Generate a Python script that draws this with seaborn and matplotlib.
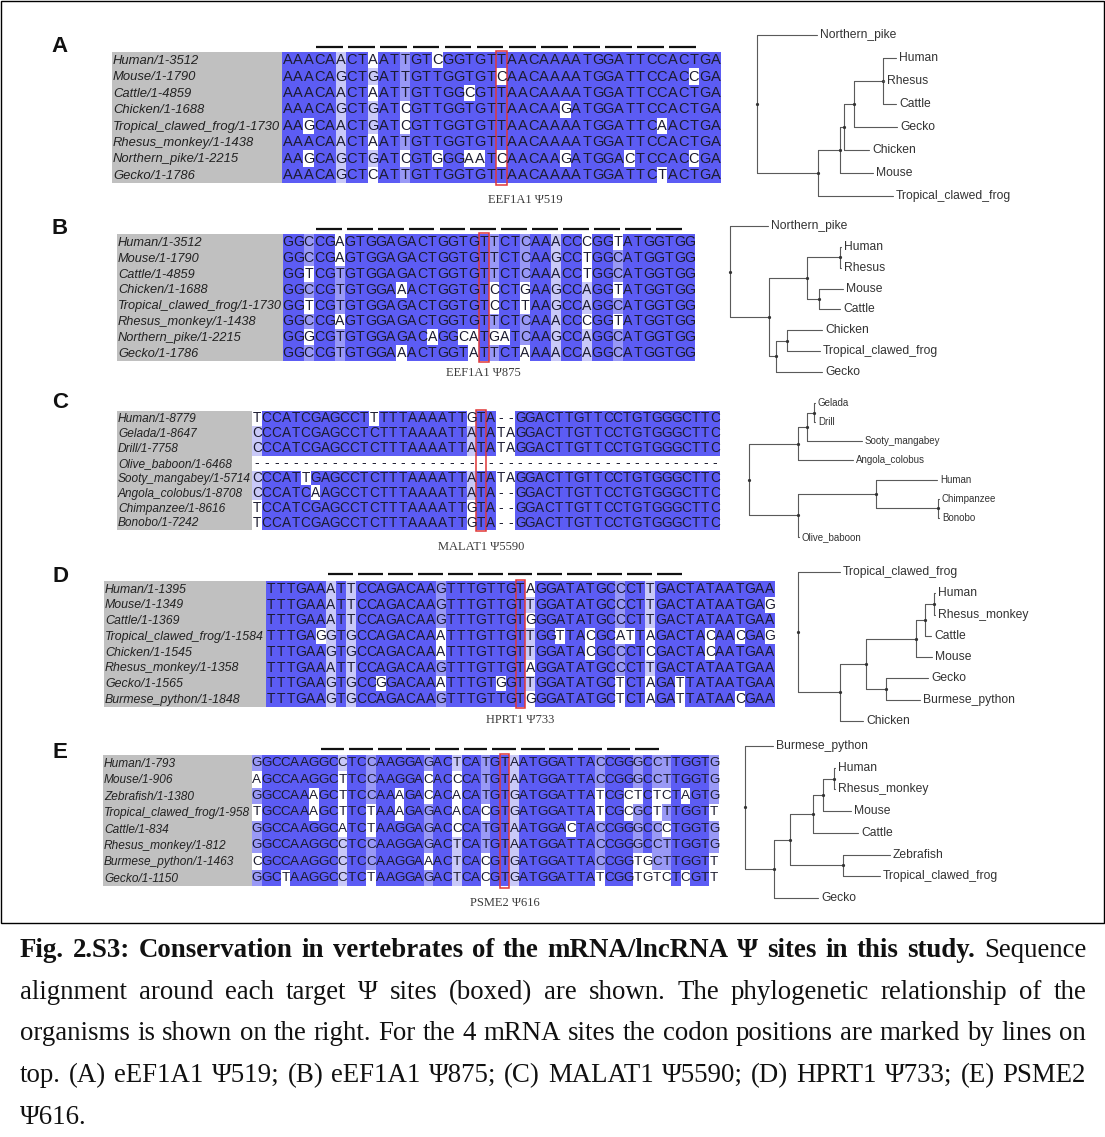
import numpy as np
import matplotlib
matplotlib.use("Agg")
import matplotlib.pyplot as plt
from matplotlib.colors import ListedColormap
from matplotlib.patches import Rectangle
import seaborn as sns
from collections import Counter

W, H = 1105, 1137

# ---------------- data ----------------
a_names = ["Human/1-3512", "Mouse/1-1790", "Cattle/1-4859", "Chicken/1-1688",
           "Tropical_clawed_frog/1-1730", "Rhesus_monkey/1-1438", "Northern_pike/1-2215", "Gecko/1-1786"]
a_seqs = ["AAACAACTAATTGTCGGTGTTAACAAAATGGATTCCACTGA",
          "AAACAGCTGATTGTTGGTGTCAACAAAATGGATTCCACCGA",
          "AAACAACTAATTGTTGGCGTTAACAAAATGGATTCCACTGA",
          "AAACAGCTGATCGTTGGTGTTAACAAGATGGATTCCACTGA",
          "AAGCAACTGATCGTTGGTGTTAACAAAATGGATTCAACTGA",
          "AAACAACTAATTGTTGGTGTTAACAAAATGGATTCCACTGA",
          "AAGCAGCTGATCGTGGGAATCAACAAGATGGACTCCACCGA",
          "AAACAGCTCATTGTTGGTGTTAACAAAATGGATTCTACTGA"]

b_names = ["Human/1-3512", "Mouse/1-1790", "Cattle/1-4859", "Chicken/1-1688",
           "Tropical_clawed_frog/1-1730", "Rhesus_monkey/1-1438", "Northern_pike/1-2215", "Gecko/1-1786"]
b_seqs = ["GGCCGAGTGGAGACTGGTGTTCTCAAACCCGGTATGGTGG",
          "GGCCGAGTGGAGACTGGTGTTCTCAAGCCTGGCATGGTGG",
          "GGTCGTGTGGAGACTGGTGTTCTCAAACCTGGCATGGTGG",
          "GGCCGTGTGGAAACTGGTGTCCTGAAGCCAGGTATGGTGG",
          "GGTCGTGTGGAGACTGGTGTCCTTAAGCCAGGCATGGTGG",
          "GGCCGAGTGGAGACTGGTGTTCTCAAACCCGGTATGGTGG",
          "GGGCGTGTGGAGACAGGCATGATCAAGCCAGGCATGGTGG",
          "GGCCGTGTGGAAACTGGTATTCTAAAACCAGGCATGGTGG"]

c_names = ["Human/1-8779", "Gelada/1-8647", "Drill/1-7758", "Olive_baboon/1-6468",
           "Sooty_mangabey/1-5714", "Angola_colobus/1-8708", "Chimpanzee/1-8616", "Bonobo/1-7242"]
c_seqs = ["TCCATCGAGCCTTTTTAAAATTGTA--GGACTTGTTCCTGTGGGCTTC",
          "CCCATCGAGCCTCTTTAAAATTATATAGGACTTGTTCCTGTGGGCTTC",
          "CCCATCGAGCCTCTTTAAAATTATATAGGACTTGTTCCTGTGGGCTTC",
          "------------------------------------------------",
          "CCCATTGAGCCTCTTTAAAATTATATAGGACTTGTTCCTGTGGGCTTC",
          "CCCATCAAGCCTCTTTAAAATTATA--GGACTTGTTCCTGTGGGCTTC",
          "TCCATCGAGCCTCTTTAAAATTGTA--GGACTTGTTCCTGTGGGCTTC",
          "TCCATCGAGCCTCTTTAAAATTGTA--GGACTTGTTCCTGTGGGCTTC"]

d_names = ["Human/1-1395", "Mouse/1-1349", "Cattle/1-1369", "Tropical_clawed_frog/1-1584",
           "Chicken/1-1545", "Rhesus_monkey/1-1358", "Gecko/1-1565", "Burmese_python/1-1848"]
d_seqs = ["TTTGAAATTCCAGACAAGTTTGTTGTAGGATATGCCCTTGACTATAATGAA",
          "TTTGAAATTCCAGACAAGTTTGTTGTTGGATATGCCCTTGACTATAATGAG",
          "TTTGAAATTCCAGACAAGTTTGTTGTGGGATATGCCCTTGACTATAATGAA",
          "TTTGAGGTGCCAGACAAATTTGTTGTTGGTTACGCATTAGACTACAACGAG",
          "TTTGAAGTGCCAGACAAATTTGTTGTTGGATACGCCCTCGACTACAATGAA",
          "TTTGAAATTCCAGACAAGTTTGTTGTAGGATATGCCCTTGACTATAATGAA",
          "TTTGAAGTGCCGGACAAATTTGTGGTTGGATATGCTCTAGATTATAATGAA",
          "TTTGAAGTGCCAGACAAGTTTGTTGTGGGATATGCTCTAGATTATAACGAA"]

e_names = ["Human/1-793", "Mouse/1-906", "Zebrafish/1-1380", "Tropical_clawed_frog/1-958",
           "Cattle/1-834", "Rhesus_monkey/1-812", "Burmese_python/1-1463", "Gecko/1-1150"]
e_seqs = ["GGCCAAGGCCTCCAAGGAGACTCATGTAATGGATTACCGGGCCTTGGTG",
          "AGCCAAGGCTTCCAAGGACACCCATGTAATGGATTACCGGGCCTTGGTG",
          "GGCCAAAGCTTCCAAAGACACACATGTGATGGATTATCGCTCTCTAGTG",
          "TGCCAAAGCTTCTAAAGAGACACACGTGATGGATTATCGCGCTTTGGTT",
          "GGCCAAGGCATCTAAGGAGACCCATGTAATGGACTACCGGGCCCTGGTG",
          "GGCCAAGGCCTCCAAGGAGACTCATGTAATGGATTACCGGGCCTTGGTG",
          "CGCCAAGGCCTCCAAGGAAACTCACGTGATGGATTACCGGTGCTTGGTT",
          "GGCTAAGGCCTCTAAGGAGACTCACGTGATGGATTATCGGTGTCTCGTT"]

# boxed psi column, first codon column, number of codons, gene label
site_cols = [20, 19, 23, 25, 26]
codon_starts = [3, 3, None, 6, 7]
codon_counts = [12, 12, 0, 12, 12]
site_labels = ["EEF1A1 \u03a8519", "EEF1A1 \u03a8875", "MALAT1 \u03a85590", "HPRT1 \u03a8733", "PSME2 \u03a8616"]
panel_letters = ["A", "B", "C", "D", "E"]

# trees (branch lengths)
tree_a = "(Northern_pike:60,(((((Human:13,Rhesus:1,Cattle:13):29,Gecko:43):10,Chicken:25):4,Mouse:33):22,Tropical_clawed_frog:75):61);"
tree_b = "(Northern_pike:38,(((Human:1,Rhesus:1):33,(Mouse:24,Cattle:21):12):38,((Chicken:35,Tropical_clawed_frog:33):11,Gecko:46):7):39);"
tree_c = "((((Gelada:1,Drill:1):7,Sooty_mangabey:55):9,Angola_colobus:55):49,((Human:61,(Chimpanzee:1,Bonobo:1):62):78,Olive_baboon:1):49);"
tree_d = "(Tropical_clawed_frog:42,(((((Human:1,Rhesus_monkey:1):9,Cattle:6):9,Mouse:16):50,(Gecko:42,Burmese_python:34):20):26,Chicken:23):42);"
tree_e = "(Burmese_python:28,(((((Human:1,Rhesus_monkey:1):11,Mouse:28):10,Cattle:45):23,(Zebrafish:47,Tropical_clawed_frog:37):53):16,Gecko:44):29);"

caption_lines = [
    "Fig. 2.S3: Conservation in vertebrates of the mRNA/lncRNA \u03a8 sites in this study. Sequence",
    "alignment around each target \u03a8 sites (boxed) are shown. The phylogenetic relationship of the",
    "organisms is shown on the right. For the 4 mRNA sites the codon positions are marked by lines on",
    "top. (A) eEF1A1 \u03a8519; (B) eEF1A1 \u03a8875; (C) MALAT1 \u03a85590; (D) HPRT1 \u03a8733; (E) PSME2",
    "\u03a8616.",
]
n_bold_words = 13

# ---------------- layout (pixels) ----------------
layout = [
    dict(nx=112, sx=282, cw=10.7, top=52, rh=16.4, ly=47, label_y=200, label_dx=24, let_y=47, fs=10.5),
    dict(nx=117, sx=283, cw=10.3, top=234, rh=15.9, ly=229, label_y=373, label_dx=0, let_y=228, fs=10.2),
    dict(nx=117, sx=252, cw=9.75, top=411, rh=14.9, ly=None, label_y=547, label_dx=0, let_y=403, fs=9.8),
    dict(nx=104, sx=266, cw=9.98, top=581, rh=15.75, ly=574, label_y=720, label_dx=0, let_y=577, fs=10),
    dict(nx=103, sx=252, cw=9.53, top=755, rh=16.4, ly=749, label_y=903, label_dx=0, let_y=752, fs=9.7),
]
tree_layout = [
    dict(x0=757, y0=35, y1=196, fs=8.7),
    dict(x0=730, y0=226, y1=372, fs=8.7),
    dict(x0=749, y0=403, y1=537, fs=7),
    dict(x0=798, y0=572, y1=721, fs=8.7),
    dict(x0=745, y0=746, y1=898, fs=8.7),
]

sns.set_theme(style="white")
plt.rcParams["font.family"] = ["Liberation Sans", "DejaVu Sans"]

DARK, MID, LIGHT = "#5c5cf4", "#9999f6", "#c9c9f8"
cmap = ListedColormap(["#ffffff", LIGHT, MID, DARK])


def identity_levels(seqs):
    arr = np.array([list(s) for s in seqs])
    n = arr.shape[0]
    lev = np.zeros(arr.shape, dtype=int)
    for j in range(arr.shape[1]):
        col = [c for c in arr[:, j] if c != "-"]
        if not col:
            continue
        counts = Counter(col)
        top = max(counts.values())
        pct = top / n
        level = 3 if pct >= 0.75 else 2 if pct >= 0.6 else 1 if pct >= 0.45 else 0
        best = [b for b, c in counts.items() if c == top]
        for i in range(n):
            if arr[i, j] in best:
                lev[i, j] = level
    return arr, lev


def parse_newick(s):
    s = s.strip().rstrip(";")
    pos = 0

    def node():
        nonlocal pos
        children = []
        if s[pos] == "(":
            pos += 1
            while True:
                children.append(node())
                if s[pos] == ",":
                    pos += 1
                    continue
                pos += 1
                break
        start = pos
        while pos < len(s) and s[pos] not in ",):":
            pos += 1
        name = s[start:pos]
        length = 0.0
        if pos < len(s) and s[pos] == ":":
            pos += 1
            start = pos
            while pos < len(s) and s[pos] not in ",)":
                pos += 1
            length = float(s[start:pos])
        return {"name": name, "len": length, "children": children}

    return node()


def draw_tree(ax, newick, x0, y0, y1, fs):
    root = parse_newick(newick)
    leaves = []

    def collect(nd):
        if not nd["children"]:
            leaves.append(nd)
        for ch in nd["children"]:
            collect(ch)
    collect(root)
    step = (y1 - y0) / (len(leaves) - 1)
    for i, lf in enumerate(leaves):
        lf["y"] = y0 + i * step

    def place(nd, x):
        nd["x"] = x
        for ch in nd["children"]:
            place(ch, x + ch["len"])
        if nd["children"]:
            ys = [ch["y"] for ch in nd["children"]]
            nd["y"] = (min(ys) + max(ys)) / 2
    place(root, x0)

    lc = "#5a5a5a"

    def draw(nd):
        if nd["children"]:
            ys = [ch["y"] for ch in nd["children"]]
            ax.plot([nd["x"], nd["x"]], [min(ys), max(ys)], color=lc, lw=0.8)
            ax.plot(nd["x"], nd["y"], "o", ms=1.3, color="#333333")
            for ch in nd["children"]:
                ax.plot([nd["x"], ch["x"]], [ch["y"], ch["y"]], color=lc, lw=0.8)
                draw(ch)
        else:
            ax.text(nd["x"] + 3, nd["y"], nd["name"], fontsize=fs, color="#333333",
                    va="center", ha="left")
    draw(root)


fig = plt.figure(figsize=(W / 100, H / 100), dpi=100)
fig.patch.set_facecolor("white")
ov = fig.add_axes([0, 0, 1, 1])
ov.set_xlim(0, W)
ov.set_ylim(H, 0)
ov.axis("off")
renderer = fig.canvas.get_renderer()


def px_axes(x, y, w, h):
    return fig.add_axes([x / W, 1 - (y + h) / H, w / W, h / H])


panels = [(a_names, a_seqs), (b_names, b_seqs), (c_names, c_seqs), (d_names, d_seqs), (e_names, e_seqs)]
trees = [tree_a, tree_b, tree_c, tree_d, tree_e]

for k, (names, seqs) in enumerate(panels):
    L = layout[k]
    letters, levels = identity_levels(seqs)
    nrows, ncols = letters.shape
    height = nrows * L["rh"]

    # names column
    nax = px_axes(L["nx"], L["top"], L["sx"] - L["nx"], height)
    nax.set_facecolor("#c0c0c0")
    nax.set_xticks([])
    nax.set_yticks([])
    for sp in nax.spines.values():
        sp.set_visible(False)
    nax.set_xlim(0, L["sx"] - L["nx"])
    nax.set_ylim(nrows, 0)
    longest = max(names, key=len)
    t = nax.text(0, 0, longest, fontsize=10, style="italic")
    wlong = t.get_window_extent(renderer).width
    t.remove()
    nfs = min(9.5, 10 * (L["sx"] - L["nx"] - 2) / wlong)
    for i, nm in enumerate(names):
        nax.text(1, i + 0.55, nm, fontsize=nfs, style="italic", color="#222222",
                 va="center", ha="left")

    # alignment heatmap
    hax = px_axes(L["sx"], L["top"], ncols * L["cw"], height)
    sns.heatmap(levels, ax=hax, cmap=cmap, vmin=0, vmax=3, cbar=False,
                annot=letters, fmt="", xticklabels=False, yticklabels=False,
                annot_kws={"fontsize": L["fs"], "color": "#1c1c30"})
    hax.set_xlim(0, ncols)
    hax.set_ylim(nrows, 0)

    # codon marks
    if codon_starts[k] is not None:
        yl = -(L["top"] - L["ly"]) / L["rh"]
        for c in range(codon_counts[k]):
            x0 = codon_starts[k] + 3 * c
            hax.plot([x0 + 0.2, x0 + 2.7], [yl, yl], color="#111111", lw=1.6,
                     clip_on=False, solid_capstyle="butt")

    # boxed psi site
    hax.add_patch(Rectangle((site_cols[k], -0.08), 1, nrows + 0.16, fill=False,
                            ec="#e03838", lw=1.1, clip_on=False))
    hax.text(site_cols[k] + 0.5 + L["label_dx"] / L["cw"],
             nrows + (L["label_y"] - L["top"] - height) / L["rh"],
             site_labels[k], ha="center", va="center", fontsize=9,
             family=["Liberation Serif", "DejaVu Serif"], color="#3a3a3a")

    ov.text(60, L["let_y"], panel_letters[k], fontsize=16, fontweight="bold",
            ha="center", va="center", color="#111111")

    T = tree_layout[k]
    draw_tree(ov, trees[k], T["x0"], T["y0"], T["y1"], T["fs"])

# frame around the figure part
ov.add_patch(Rectangle((1, 1), W - 2.5, 922, fill=False, ec="black", lw=1))

# caption, justified
serif = ["Liberation Serif", "DejaVu Serif"]
probe = ov.text(0, 0, caption_lines[2], fontsize=17, family=serif)
cfs = 17 * 1058 / probe.get_window_extent(renderer).width
probe.remove()
x_left, x_right = 20, 1086
baselines = [957, 999, 1040, 1082, 1124]
for li, line in enumerate(caption_lines):
    words = line.split(" ")
    texts = []
    for wi, w in enumerate(words):
        bold = li == 0 and wi < n_bold_words
        texts.append(ov.text(0, baselines[li], w, fontsize=cfs, family=serif,
                             fontweight="bold" if bold else "normal",
                             va="baseline", ha="left", color="#111111"))
    widths = [t.get_window_extent(renderer).width for t in texts]
    if li < len(caption_lines) - 1 and len(words) > 1:
        gap = (x_right - x_left - sum(widths)) / (len(words) - 1)
    else:
        gap = cfs * 100 / 72 * 0.25
    x = x_left
    for t, wd in zip(texts, widths):
        t.set_x(x)
        x += wd + gap

fig.savefig("out.png", dpi=100)
